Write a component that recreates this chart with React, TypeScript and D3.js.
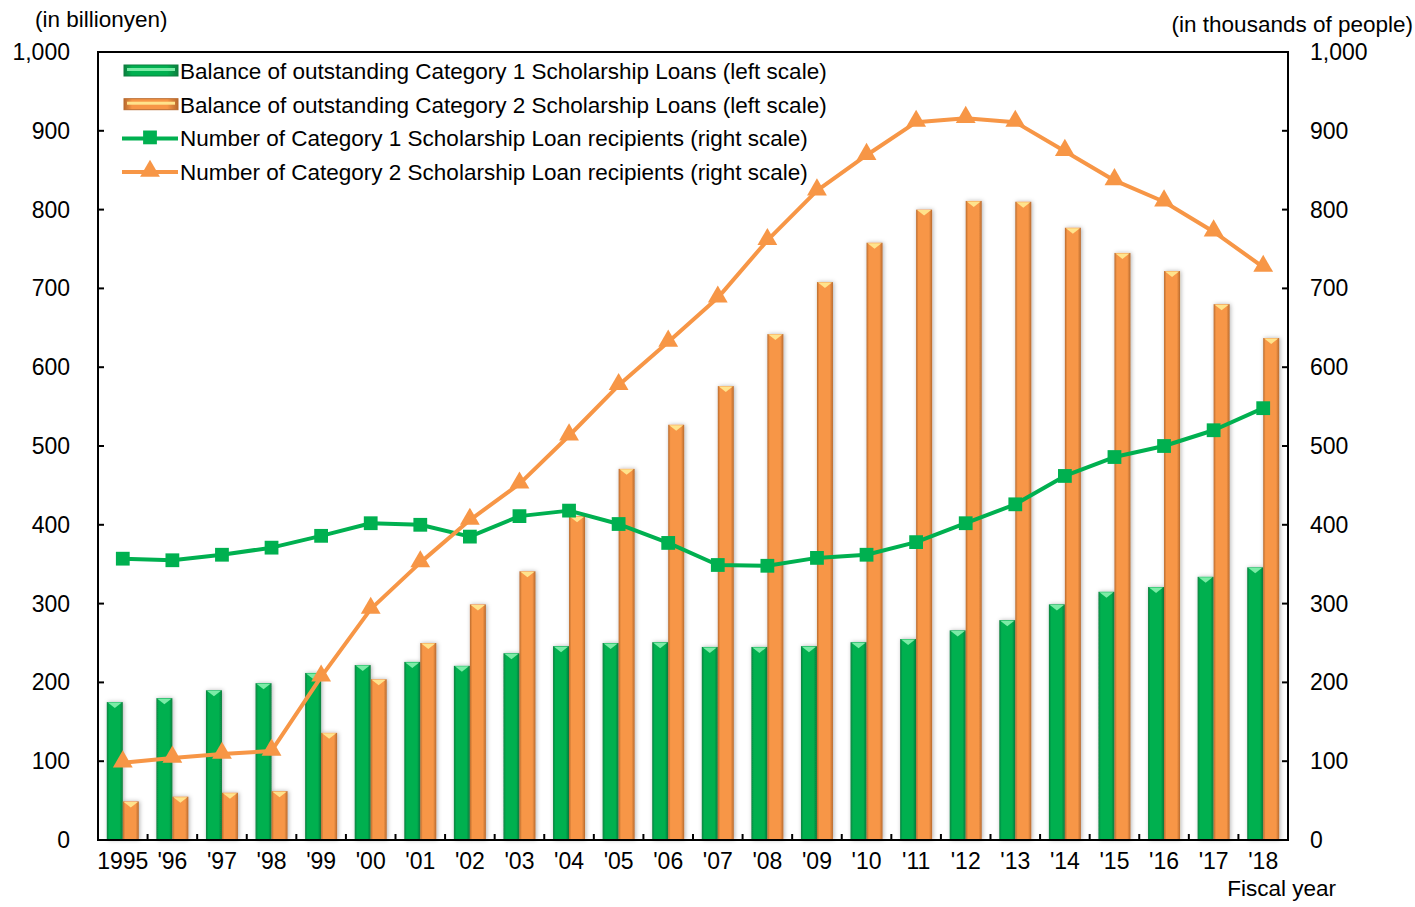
import * as d3 from "d3";
import { useEffect, useRef } from "react";

// fiscal years
const years = ["1995", "'96", "'97", "'98", "'99", "'00", "'01", "'02", "'03", "'04", "'05", "'06",
  "'07", "'08", "'09", "'10", "'11", "'12", "'13", "'14", "'15", "'16", "'17", "'18"];

// balance of outstanding loans (billion yen, left scale)
const balanceCat1 = [175, 180, 190, 199, 212, 222, 226, 221, 237, 246, 250, 251,
  245, 245, 246, 251, 255, 266, 279, 299, 315, 321, 334, 346];
const balanceCat2 = [49, 55, 60, 62, 136, 204, 250, 299, 341, 411, 471, 527,
  576, 642, 708, 758, 800, 811, 810, 777, 745, 722, 680, 637];

// number of recipients (thousand people, right scale)
const recipientsCat1 = [357, 355, 362, 371, 386, 402, 400, 385, 411, 418, 401, 377,
  349, 348, 358, 362, 378, 402, 426, 462, 486, 500, 520, 548];
const recipientsCat2 = [98, 104, 109, 113, 207, 293, 352, 406, 452, 513, 577, 632,
  688, 761, 824, 869, 911, 916, 911, 874, 837, 810, 772, 727];

const yTicks = [0, 100, 200, 300, 400, 500, 600, 700, 800, 900, 1000];

const legendItems = [
  "Balance of outstanding Category 1 Scholarship Loans (left scale)",
  "Balance of outstanding Category 2 Scholarship Loans (left scale)",
  "Number of Category 1 Scholarship Loan recipients (right scale)",
  "Number of Category 2 Scholarship Loan recipients (right scale)",
];

const GREEN = "#00B050";
const ORANGE = "#F79646";

const App = () => {
  const ref = useRef<SVGSVGElement>(null);

  useEffect(() => {
    const svg = d3.select(ref.current);
    svg.selectAll("*").remove();
    const font = "'Liberation Sans', Arial, sans-serif";

    const margin = { left: 98, right: 1415 - 1288, top: 52, bottom: 907 - 840 };
    const width = 1415 - margin.left - margin.right;
    const height = 907 - margin.top - margin.bottom;

    const x = d3.scaleBand().domain(years).range([0, width]);
    const yL = d3.scaleLinear().domain([0, 1000]).range([height, 0]);
    const yR = d3.scaleLinear().domain([0, 1000]).range([height, 0]);

    // gradients for bars
    const defs = svg.append("defs");
    const grad = (id: string, edge: string, mid: string) => {
      const g = defs.append("linearGradient").attr("id", id).attr("x1", 0).attr("x2", 1).attr("y1", 0).attr("y2", 0);
      g.append("stop").attr("offset", 0).attr("stop-color", edge);
      g.append("stop").attr("offset", 0.15).attr("stop-color", mid);
      g.append("stop").attr("offset", 0.8).attr("stop-color", mid);
      g.append("stop").attr("offset", 1).attr("stop-color", edge);
    };
    grad("gGreen", "#0C7E3E", GREEN);
    grad("gOrange", "#B86A2E", ORANGE);
    const sh = defs.append("filter").attr("id", "shadow").attr("x", -0.5).attr("y", -0.1).attr("width", 2).attr("height", 1.2);
    sh.append("feDropShadow").attr("dx", 1).attr("dy", 0).attr("stdDeviation", 2)
      .attr("flood-color", "#000").attr("flood-opacity", 0.3);

    const g = svg.append("g").attr("transform", `translate(${margin.left},${margin.top})`);

    // bars
    const bw = 16;
    const drawBars = (vals: number[], off: number, fill: string, top: string) => {
      const bg = g.append("g");
      vals.forEach((v, i) => {
        const bx = (x(years[i]) as number) + x.bandwidth() / 2 + off;
        const by = yL(v);
        bg.append("rect").attr("x", bx).attr("y", by).attr("width", bw)
          .attr("height", height - by).attr("fill", fill).attr("filter", "url(#shadow)");
        bg.append("path")
          .attr("d", `M${bx + 1},${by + 0.5} L${bx + bw - 1},${by + 0.5} L${bx + bw / 2},${by + 6} Z`)
          .attr("fill", top);
      });
    };
    drawBars(balanceCat1, -bw, "url(#gGreen)", "#7BEBA6");
    drawBars(balanceCat2, 0, "url(#gOrange)", "#FFE38C");

    // frame
    g.append("rect").attr("width", width).attr("height", height)
      .attr("fill", "none").attr("stroke", "#000").attr("stroke-width", 2);

    // ticks
    yTicks.forEach((t) => {
      g.append("line").attr("x1", 0).attr("x2", 6).attr("y1", yL(t)).attr("y2", yL(t))
        .attr("stroke", "#000").attr("stroke-width", 2);
      g.append("line").attr("x1", width - 6).attr("x2", width).attr("y1", yR(t)).attr("y2", yR(t))
        .attr("stroke", "#000").attr("stroke-width", 2);
      g.append("text").attr("x", -28).attr("y", yL(t)).attr("dy", "0.35em")
        .attr("text-anchor", "end").attr("font-family", font).attr("font-size", 23)
        .text(d3.format(",")(t));
      g.append("text").attr("x", width + 22).attr("y", yR(t)).attr("dy", "0.35em")
        .attr("text-anchor", "start").attr("font-family", font).attr("font-size", 23)
        .text(d3.format(",")(t));
    });
    years.forEach((yr, i) => {
      if (i > 0) {
        const tx = x(yr) as number;
        g.append("line").attr("x1", tx).attr("x2", tx).attr("y1", height).attr("y2", height - 6)
          .attr("stroke", "#000").attr("stroke-width", 2);
      }
      g.append("text").attr("x", (x(yr) as number) + x.bandwidth() / 2).attr("y", height + 29)
        .attr("text-anchor", "middle").attr("font-family", font).attr("font-size", 23).text(yr);
    });

    // lines
    const cx = (i: number) => (x(years[i]) as number) + x.bandwidth() / 2;
    const line = d3.line<number>().x((_, i) => cx(i)).y((d) => yR(d));
    g.append("path").datum(recipientsCat1).attr("d", line).attr("fill", "none")
      .attr("stroke", GREEN).attr("stroke-width", 4).attr("stroke-linejoin", "round");
    g.append("path").datum(recipientsCat2).attr("d", line).attr("fill", "none")
      .attr("stroke", ORANGE).attr("stroke-width", 4).attr("stroke-linejoin", "round");

    const tri = d3.symbol().type(d3.symbolTriangle).size(170);
    const sq = d3.symbol().type(d3.symbolSquare).size(190);
    recipientsCat1.forEach((v, i) => {
      g.append("path").attr("d", sq()).attr("transform", `translate(${cx(i)},${yR(v)})`).attr("fill", GREEN);
    });
    recipientsCat2.forEach((v, i) => {
      g.append("path").attr("d", tri()).attr("transform", `translate(${cx(i)},${yR(v) - 1})`).attr("fill", ORANGE);
    });

    // legend
    const lg = svg.append("g").attr("transform", "translate(122,71)");
    legendItems.forEach((txt, i) => {
      const row = lg.append("g").attr("transform", `translate(0,${i * 33.7})`);
      if (i < 2) {
        row.append("rect").attr("x", 2).attr("y", -6).attr("width", 54).attr("height", 11)
          .attr("fill", i === 0 ? "url(#gGreen)" : "url(#gOrange)")
          .attr("stroke", i === 0 ? "#0C7E3E" : "#B86A2E").attr("stroke-width", 1);
        row.append("rect").attr("x", 5).attr("y", -3).attr("width", 48).attr("height", 3)
          .attr("fill", i === 0 ? "#7BEBA6" : "#FFE38C");
      } else {
        const c = i === 2 ? GREEN : ORANGE;
        row.append("line").attr("x1", 0).attr("x2", 56).attr("y1", 0).attr("y2", 0)
          .attr("stroke", c).attr("stroke-width", 4);
        row.append("path").attr("d", i === 2 ? sq() : tri()).attr("transform", "translate(28,-1)").attr("fill", c);
      }
      row.append("text").attr("x", 58).attr("y", 0).attr("dy", "0.35em")
        .attr("font-family", font).attr("font-size", 22.5).text(txt);
    });

    // axis titles
    svg.append("text").attr("x", 35).attr("y", 27).attr("font-family", font).attr("font-size", 22.5)
      .text("(in billionyen)");
    svg.append("text").attr("x", 1413).attr("y", 32).attr("text-anchor", "end").attr("font-family", font)
      .attr("font-size", 22.5).text("(in thousands of people)");
    svg.append("text").attr("x", 1336).attr("y", 896).attr("text-anchor", "end").attr("font-family", font)
      .attr("font-size", 22.5).text("Fiscal year");
  }, []);

  return <svg ref={ref} width={1415} height={907} style={{ position: "absolute", left: 0, top: 0 }} />;
};

export default App;
